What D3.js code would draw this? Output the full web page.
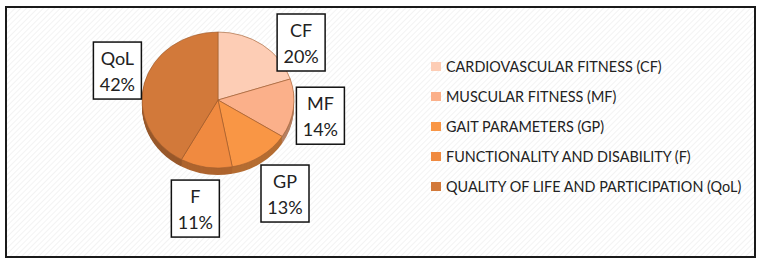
<!DOCTYPE html>
<html lang="en">
  <head>
    <meta charset="utf-8" />
    <title>Outcome domains</title>
    <style>
      body { margin: 0; background: #fff; }
      text { font-family: Lato, "Open Sans", sans-serif; fill: #222; }
    </style>
  </head>
  <body>
    <script src="https://d3js.org/d3.v7.min.js"></script>
    <div id="chart"></div>
    <script>
      // data
      const codes = ["CF", "MF", "GP", "F", "QoL"];
      const names = [
        "CARDIOVASCULAR FITNESS (CF)",
        "MUSCULAR FITNESS (MF)",
        "GAIT PARAMETERS (GP)",
        "FUNCTIONALITY AND DISABILITY (F)",
        "QUALITY OF LIFE AND PARTICIPATION (QoL)"
      ];
      const shares = [20, 14, 13, 11, 42];
      const colors = ["#fdcdb5", "#fbb08a", "#f99645", "#f08a40", "#d2793a"];

      const W = 763, H = 264;
      const cx = 218, cy = 100, rx = 76, ry = 68, depth = 7;

      const svg = d3.select("#chart").append("svg")
        .attr("width", W).attr("height", H);

      // faint hatched chart background
      const defs = svg.append("defs");
      const pat = defs.append("pattern")
        .attr("id", "hatch")
        .attr("width", 4).attr("height", 4)
        .attr("patternUnits", "userSpaceOnUse")
        .attr("patternTransform", "rotate(45)");
      pat.append("rect").attr("width", 4).attr("height", 4).attr("fill", "#fff");
      pat.append("line").attr("x1", 0).attr("y1", 0).attr("x2", 0).attr("y2", 4)
        .attr("stroke", "#f0f0f0").attr("stroke-width", 1.5);

      svg.append("rect")
        .attr("x", 6).attr("y", 7).attr("width", 749).attr("height", 250)
        .attr("fill", "url(#hatch)")
        .attr("stroke", "#1a1a1a").attr("stroke-width", 2);

      const pie = d3.pie().sort(null).value(d => d)(shares);
      const arc = d3.arc().innerRadius(0).outerRadius(rx);
      const sy = ry / rx;

      // 3d side: stacked darker copies shifted down
      const side = svg.append("g");
      for (let k = depth; k >= 1; k--) {
        side.append("g")
          .attr("transform", `translate(${cx},${cy + k}) scale(1,${sy})`)
          .selectAll("path")
          .data(pie)
          .join("path")
          .attr("d", arc)
          .attr("fill", (d, i) => d3.color(colors[i]).darker(0.9));
      }

      // top face
      svg.append("g")
        .attr("transform", `translate(${cx},${cy}) scale(1,${sy})`)
        .selectAll("path")
        .data(pie)
        .join("path")
        .attr("d", arc)
        .attr("fill", (d, i) => colors[i])
        .attr("stroke", "#9c5a2e")
        .attr("stroke-width", 0.6)
        .attr("vector-effect", "non-scaling-stroke");

      // data labels in boxes, placed outside each slice's mid angle
      const bw = 48, bh = 57, gap = 3;
      const clampS = t => Math.max(-1, Math.min(1, t * 1.6));
      const labels = svg.append("g");
      pie.forEach((d, i) => {
        const a = (d.startAngle + d.endAngle) / 2;
        const s = Math.sin(a), c = Math.cos(a);
        const px = cx + rx * s;
        let py = cy - ry * c + (c < 0 ? depth * -c : 0);
        let bx = px + (bw / 2 + gap) * clampS(s);
        let by = py - (bh / 2 + gap) * clampS(c);
        const top = 14 + bh / 2;
        if (by < top) {
          bx += (top - by) * 0.45;
          by = top;
        }
        if (c < -0.9) { bx -= 4; by += 3; }
        const g = labels.append("g")
          .attr("transform", `translate(${bx - bw / 2},${by - bh / 2})`);
        g.append("rect")
          .attr("width", bw).attr("height", bh)
          .attr("fill", "#fff").attr("stroke", "#111").attr("stroke-width", 1.5);
        g.append("text").attr("x", bw / 2).attr("y", 23)
          .attr("text-anchor", "middle").attr("font-size", 18)
          .text(codes[i]);
        g.append("text").attr("x", bw / 2).attr("y", 49)
          .attr("text-anchor", "middle").attr("font-size", 18)
          .text(shares[i] + "%");
      });

      // legend
      const legend = svg.append("g").attr("transform", "translate(431,62)");
      const rows = legend.selectAll("g")
        .data(names)
        .join("g")
        .attr("transform", (d, i) => `translate(0,${i * 30})`);
      rows.append("rect")
        .attr("width", 10).attr("height", 9)
        .attr("fill", (d, i) => colors[i]);
      rows.append("text")
        .attr("transform", "translate(15,10) scale(0.9,1)")
        .attr("font-size", 16)
        .text(d => d);
    </script>
  </body>
</html>
